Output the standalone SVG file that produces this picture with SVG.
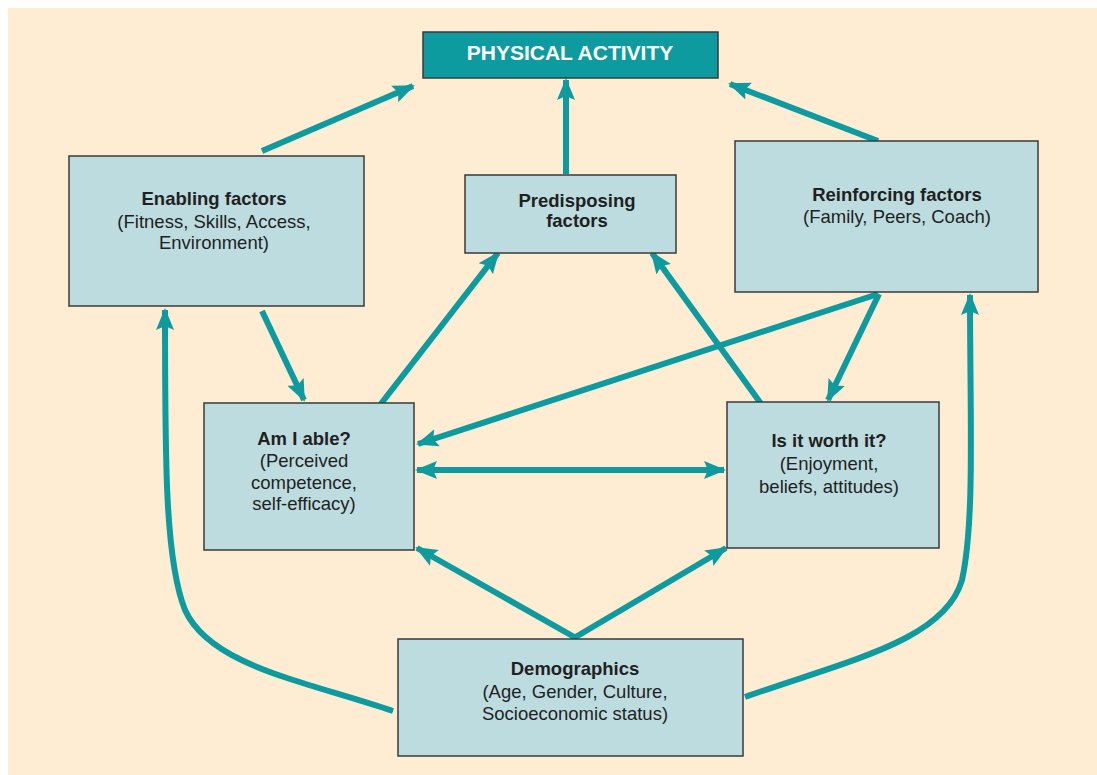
<svg xmlns="http://www.w3.org/2000/svg" width="1097" height="775" viewBox="0 0 1097 775">
<style>
.box{fill:#BCDCE0;stroke:#3a3a3a;stroke-width:1.5}
.t{font-family:"Liberation Sans",Arial,sans-serif;font-size:18.5px;fill:#231f20;text-anchor:middle}
.b{font-weight:bold}
.c{fill:none;stroke:#0E9BA0;stroke-width:6}
</style>
<defs>
<marker id="ah" markerUnits="userSpaceOnUse" markerWidth="22" markerHeight="20" viewBox="0 0 22 20" refX="20" refY="10" orient="auto-start-reverse">
<path d="M0,1 L22,10 L0,19 L4,10 z" fill="#0E9BA0"/>
</marker>
</defs>
<rect x="0" y="0" width="1097" height="775" fill="#ffffff"/>
<rect x="8" y="8" width="1089" height="767" fill="#FEEDD3"/>

<g id="connectors">
<path class="c" d="M262,151 L413,86" marker-end="url(#ah)"/>
<path class="c" d="M878,141 L730,84" marker-end="url(#ah)"/>
<path class="c" d="M566,174 L566,80" marker-end="url(#ah)"/>
<path class="c" d="M262,311 L304,400" marker-end="url(#ah)"/>
<path class="c" d="M380,405 L498,253" marker-end="url(#ah)"/>
<path class="c" d="M762,405 L652,253" marker-end="url(#ah)"/>
<path class="c" d="M878,294 L418,444" marker-end="url(#ah)"/>
<path class="c" d="M879,294 L828,400" marker-end="url(#ah)"/>
<path class="c" d="M417,470 L724,470" marker-start="url(#ah)" marker-end="url(#ah)"/>
<path class="c" d="M576,638 L417,548" marker-end="url(#ah)"/>
<path class="c" d="M574,638 L726,548" marker-end="url(#ah)"/>
<path class="c" d="M393,711 C300,680 210,665 185,610 C165,560 165,460 165,310" marker-end="url(#ah)"/>
<path class="c" d="M745,697 C850,660 945,640 962,580 C975,520 970,420 970,295" marker-end="url(#ah)"/>
</g>

<g id="physical-activity">
<rect x="423" y="32" width="295" height="46" fill="#0E9BA0" stroke="#3a3a3a" stroke-width="1.5"/>
<text x="570" y="60" class="t b" style="fill:#ffffff;font-size:21px">PHYSICAL ACTIVITY</text>
</g>

<g id="enabling">
<rect class="box" x="69" y="156" width="295" height="150"/>
<text class="t b" x="214" y="205">Enabling factors</text>
<text class="t" x="214" y="228">(Fitness, Skills, Access,</text>
<text class="t" x="214" y="249">Environment)</text>
</g>

<g id="predisposing">
<rect class="box" x="465" y="175" width="211" height="78"/>
<text class="t b" x="577" y="207">Predisposing</text>
<text class="t b" x="577" y="227">factors</text>
</g>

<g id="reinforcing">
<rect class="box" x="735" y="141" width="303" height="151"/>
<text class="t b" x="897" y="201">Reinforcing factors</text>
<text class="t" x="897" y="223">(Family, Peers, Coach)</text>
</g>

<g id="am-i-able">
<rect class="box" x="204" y="403" width="210" height="147"/>
<text class="t b" x="304" y="445">Am I able?</text>
<text class="t" x="304" y="467">(Perceived</text>
<text class="t" x="304" y="489">competence,</text>
<text class="t" x="304" y="510">self-efficacy)</text>
</g>

<g id="worth-it">
<rect class="box" x="727" y="402" width="212" height="146"/>
<text class="t b" x="829" y="447">Is it worth it?</text>
<text class="t" x="829" y="470">(Enjoyment,</text>
<text class="t" x="829" y="493">beliefs, attitudes)</text>
</g>

<g id="demographics">
<rect class="box" x="398" y="639" width="345" height="117"/>
<text class="t b" x="575" y="675">Demographics</text>
<text class="t" x="575" y="698">(Age, Gender, Culture,</text>
<text class="t" x="575" y="720">Socioeconomic status)</text>
</g>
</svg>
